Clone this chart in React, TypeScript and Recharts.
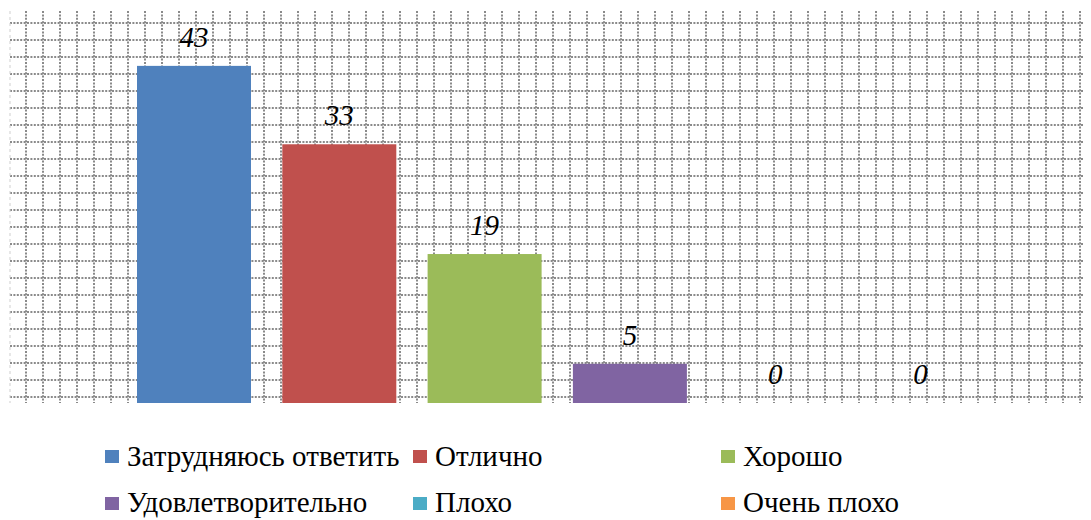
import React from 'react';
import { BarChart, Bar, XAxis, YAxis, CartesianGrid, LabelList } from 'recharts';

// one category, six answer options as separate series
const seriesNames = ['Затрудняюсь ответить', 'Отлично', 'Хорошо', 'Удовлетворительно', 'Плохо', 'Очень плохо'];
const seriesValues = [43, 33, 19, 5, 0, 0];
const seriesColors = ['#4F81BD', '#C0504D', '#9BBB59', '#8064A2', '#4BACC6', '#F79646'];
const yDomain = [0, 50];

const data = [
  seriesNames.reduce((row: any, name, i) => {
    row[name] = seriesValues[i];
    return row;
  }, { category: 'Оценка' }),
];

// Excel "small grid" pattern fill: lines every 17px
const gridStep = 17;
const hGrid = ({ offset }: any) => {
  const out: number[] = [];
  for (let y = offset.top + 12; y < offset.top + offset.height; y += gridStep) out.push(y);
  return out;
};
const vGrid = ({ offset }: any) => {
  const out: number[] = [];
  for (let x = offset.left + 16; x < offset.left + offset.width; x += gridStep) out.push(x);
  return out;
};
const leftEdge = ({ offset }: any) => [offset.left];

const font = '"Liberation Serif", Tinos, "Times New Roman"';

// zero-height bars draw nothing but still carry their label
const BarShape = (props: any) => {
  const { x, y, width, height, fill, value } = props;
  if (!value) return null;
  return <rect x={x} y={y} width={width} height={height} fill={fill} />;
};

const ValueLabel = (props: any) => {
  const { x, y, width, height, value } = props;
  const top = value ? y : y + height;
  return (
    <text
      x={x + width / 2}
      y={top - 19}
      textAnchor="middle"
      fill="#000"
      style={{ fontFamily: font, fontStyle: 'italic', fontSize: 29 }}
    >
      {value}
    </text>
  );
};

export default function App() {
  return (
    <div style={{ position: 'relative', marginLeft: -8, marginTop: -8, width: 1091, height: 520, overflow: 'hidden', background: '#fff', fontFamily: font }}>
      <BarChart
        width={1105}
        height={520}
        data={data}
        margin={{ top: 11, right: 0, bottom: 117, left: 10 }}
        barSize={114}
        barGap={31.3}
      >
        <CartesianGrid
          stroke="#8a8a8a"
          strokeWidth={2}
          strokeDasharray="2 1.4"
          horizontalCoordinatesGenerator={hGrid}
          verticalCoordinatesGenerator={vGrid}
        />
        <CartesianGrid
          horizontal={false}
          stroke="#cfcfcf"
          strokeDasharray="3 3"
          verticalCoordinatesGenerator={leftEdge}
        />
        <XAxis dataKey="category" hide />
        <YAxis domain={yDomain} hide />
        {seriesNames.map((name, i) => (
          <Bar
            key={name}
            dataKey={name}
            fill={seriesColors[i]}
            minPointSize={1}
            shape={BarShape}
            isAnimationActive={false}
          >
            <LabelList dataKey={name} content={ValueLabel} />
          </Bar>
        ))}
      </BarChart>
      {seriesNames.map((name, i) => {
        const left = 105 + (i % 3) * 308;
        const row = Math.floor(i / 3);
        return (
          <React.Fragment key={name}>
            <span
              style={{
                position: 'absolute',
                left,
                top: 450 + row * 47,
                width: 14,
                height: 13,
                background: seriesColors[i],
              }}
            />
            <span
              style={{
                position: 'absolute',
                left: left + 22,
                top: 441 + row * 46,
                fontFamily: font,
                fontSize: 29,
                lineHeight: '30px',
                color: '#000',
                whiteSpace: 'nowrap',
              }}
            >
              {name}
            </span>
          </React.Fragment>
        );
      })}
    </div>
  );
}
